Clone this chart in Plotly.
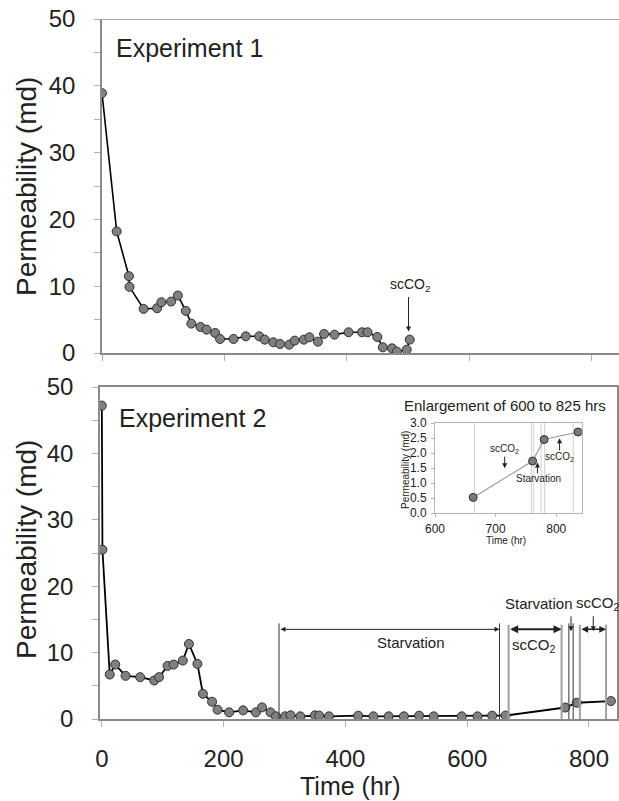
import plotly.graph_objects as go

# ---------------- data ----------------
t1 = [0, 24, 44, 45, 68, 90, 97, 113, 124, 137, 146, 161, 171, 185, 193, 215, 235, 257, 266,
      280, 291, 306, 315, 330, 339, 353, 363, 380, 403, 425, 434, 450, 459, 474, 482, 498, 503]
k1 = [38.9, 18.2, 11.5, 9.9, 6.6, 6.7, 7.6, 7.7, 8.6, 6.3, 4.4, 3.9, 3.5, 3.0, 2.1, 2.1, 2.5, 2.5, 2.0,
      1.6, 1.35, 1.25, 1.85, 2.0, 2.35, 1.7, 2.85, 2.75, 3.1, 3.1, 3.1, 2.4, 0.85, 0.7, 0.2, 0.5, 2.0]

t2 = [0, 1, 13, 22, 39, 63, 86, 94, 108, 118, 133, 143, 157, 166, 181, 190, 209, 232, 253, 263,
      277, 286, 301, 310, 326, 350, 357, 373, 421, 446, 471, 496, 521, 545, 591, 617, 641, 663,
      761, 780, 836]
k2 = [47.2, 25.5, 6.7, 8.2, 6.5, 6.3, 5.8, 6.3, 8.0, 8.2, 8.8, 11.3, 8.3, 3.8, 2.6, 1.4, 1.0, 1.3, 1.0, 1.75,
      1.0, 0.4, 0.4, 0.55, 0.4, 0.55, 0.5, 0.4, 0.5, 0.4, 0.4, 0.4, 0.5, 0.4, 0.4, 0.4, 0.5, 0.52,
      1.73, 2.45, 2.7]

# inset: last four points of experiment 2
t_in = t2[-4:]
k_in = k2[-4:]

# phase boundaries (hr)
starv1 = [291, 653]
sc1 = [668, 755]
starv2 = [767, 774]
sc2 = [785, 828]
inset_lines = [665, 759, 763, 775, 781, 828]

W, H = 619, 801
def px(x):
    return x / W
def py(y):
    return (H - y) / H

GRAY = "#8a8a8a"
FONT = "Liberation Sans, Arial, sans-serif"

fig = go.Figure()

marker = dict(size=9, color="#808080", line=dict(color="#303030", width=1))
fig.add_trace(go.Scatter(x=t1, y=k1, mode="lines+markers", line=dict(color="black", width=1.6),
                         marker=marker, xaxis="x", yaxis="y", showlegend=False))
fig.add_trace(go.Scatter(x=t2, y=k2, mode="lines+markers", line=dict(color="black", width=1.8),
                         marker=marker, xaxis="x2", yaxis="y2", showlegend=False))
fig.add_trace(go.Scatter(x=t_in, y=k_in, mode="lines+markers", line=dict(color="#9a9a9a", width=1.2),
                         marker=dict(size=8, color="#7a7a7a", line=dict(color="#303030", width=1)),
                         xaxis="x3", yaxis="y3", showlegend=False))

axis_common = dict(showgrid=False, zeroline=False, showline=True, linecolor=GRAY, linewidth=1.5,
                   ticks="outside", tickcolor="#b0b0b0", ticklen=6, tickwidth=1, automargin=False,
                   tickfont=dict(family=FONT, size=24, color="#222"))
inset_common = dict(showgrid=False, zeroline=False, showline=True, linecolor="#b5b5b5", linewidth=1,
                    ticks="outside", ticklen=3, tickcolor="#b5b5b5", automargin=False, mirror=True,
                    tickfont=dict(family=FONT, size=12, color="#222"))

fig.update_layout(
    width=W, height=H, margin=dict(l=0, r=0, t=0, b=0, autoexpand=False),
    paper_bgcolor="white", plot_bgcolor="white",
    xaxis=dict(domain=[px(102), 1.0], range=[0, 845], anchor="y",
               tickvals=[0, 200, 400, 600, 800], showticklabels=False, **axis_common),
    yaxis=dict(domain=[py(353), py(19)], range=[0, 50], anchor="x", tickvals=[0, 10, 20, 30, 40, 50],
               minor=dict(tickvals=[5, 15, 25, 35, 45], ticks="outside", ticklen=6, tickcolor="#b0b0b0"),
               ticklabelstandoff=14, **axis_common),
    xaxis2=dict(domain=[px(100), px(617)], range=[-3, 846], anchor="y2", mirror=True,
                tickvals=[0, 200, 400, 600, 800], ticklabelstandoff=11, **axis_common),
    yaxis2=dict(domain=[py(719), py(387)], range=[0, 50], anchor="x2", mirror=True,
                tickvals=[0, 10, 20, 30, 40, 50],
                minor=dict(tickvals=[5, 15, 25, 35, 45], ticks="outside", ticklen=6, tickcolor="#b0b0b0"),
                ticklabelstandoff=14, **axis_common),
    xaxis3=dict(domain=[px(435), px(581.7)], range=[600, 842], anchor="y3",
                tickvals=[600, 700, 800], ticklabelstandoff=2, **inset_common),
    yaxis3=dict(domain=[py(513), py(423)], range=[0, 3.0], anchor="x3",
                dtick=0.5, tickformat=".1f", ticklabelstandoff=2, **inset_common),
)

shapes = []
# top border of top panel
shapes.append(dict(type="line", xref="paper", yref="y", x0=px(102), x1=1.0, y0=50, y1=50,
                   line=dict(color=GRAY, width=1.5)))
# bracket vertical lines, bottom panel
for xv in starv1:
    shapes.append(dict(type="line", xref="x2", yref="y2", x0=xv, x1=xv, y0=0, y1=14.4,
                       line=dict(color="#333", width=1)))
for xv in sc1 + sc2:
    shapes.append(dict(type="line", xref="x2", yref="y2", x0=xv, x1=xv, y0=0, y1=14.2,
                       line=dict(color="#a0a0a0", width=2)))
for xv in starv2:
    shapes.append(dict(type="line", xref="x2", yref="y2", x0=xv, x1=xv, y0=0, y1=14.4,
                       line=dict(color="#333", width=1)))
# inset vertical reference lines
for xv in inset_lines:
    shapes.append(dict(type="line", xref="x3", yref="y3", x0=xv, x1=xv, y0=0, y1=3.0,
                       line=dict(color="#cfcfcf", width=1), layer="below"))
fig.update_layout(shapes=shapes)

ann = []
def txt(text, x, y, xref, yref, size, **kw):
    d = dict(text=text, x=x, y=y, xref=xref, yref=yref, showarrow=False,
             xanchor="center", yanchor="middle",
             font=dict(family=FONT, size=size, color="#222"))
    d.update(kw)
    ann.append(d)

def arrow(x, y, ax, ay, xref, yref, width=1, head=2, side="end", size=1):
    ann.append(dict(text="", x=x, y=y, ax=ax, ay=ay, xref=xref, yref=yref,
                    axref=xref, ayref=yref, showarrow=True, arrowhead=head,
                    arrowwidth=width, arrowcolor="#222", arrowside=side, arrowsize=size,
                    startarrowhead=head, startarrowsize=size))

# axis titles
txt("Permeability (md)", px(26), py(187), "paper", "paper", 28, textangle=-90)
txt("Permeability (md)", px(26), py(550), "paper", "paper", 28, textangle=-90)
txt("Time (hr)", px(350), py(786), "paper", "paper", 25)

# panel labels
txt("Experiment 1", 20, 45.7, "x", "y", 25, xanchor="left")
txt("Experiment 2", 25, 45.3, "x2", "y2", 25, xanchor="left")

# top panel scCO2
txt("scCO<sub>2</sub>", 503, 10.2, "x", "y", 14)
arrow(501, 3.2, 501, 8.6, "x", "y", width=1, head=2)

# bottom panel brackets
arrow(starv1[1], 13.5, starv1[0], 13.5, "x2", "y2", width=1, head=2, side="end+start")
txt("Starvation", 507, 11.45, "x2", "y2", 15)
arrow(sc1[1], 13.5, sc1[0], 13.5, "x2", "y2", width=2, head=2, side="end+start", size=0.8)
txt("scCO<sub>2</sub>", 710, 11.1, "x2", "y2", 15)
arrow(sc2[1], 13.5, sc2[0], 13.5, "x2", "y2", width=1.5, head=2, side="end+start", size=0.9)
txt("Starvation", 718, 17.4, "x2", "y2", 15)
txt("scCO<sub>2</sub>", 815, 17.4, "x2", "y2", 15)
arrow(770.5, 13.2, 770.5, 15.7, "x2", "y2", width=1, head=2)
arrow(807, 13.2, 807, 15.7, "x2", "y2", width=1, head=2)

# inset
txt("Enlargement of 600 to 825 hrs", px(505), py(405), "paper", "paper", 15)
txt("Permeability (md)", px(405), py(470), "paper", "paper", 10, textangle=-90)
txt("Time (hr)", px(506), py(540), "paper", "paper", 10)
txt("scCO<sub>2</sub>", 715, 2.12, "x3", "y3", 10)
arrow(715, 1.49, 715, 1.93, "x3", "y3", width=1, head=2)
txt("Starvation", 770, 1.16, "x3", "y3", 10)
arrow(769, 1.68, 769, 1.27, "x3", "y3", width=1, head=2)
txt("scCO<sub>2</sub>", 805.5, 1.88, "x3", "y3", 10)
arrow(805.5, 2.49, 805.5, 2.04, "x3", "y3", width=1, head=2)

fig.update_layout(annotations=ann)
fig.write_html("out.html")
